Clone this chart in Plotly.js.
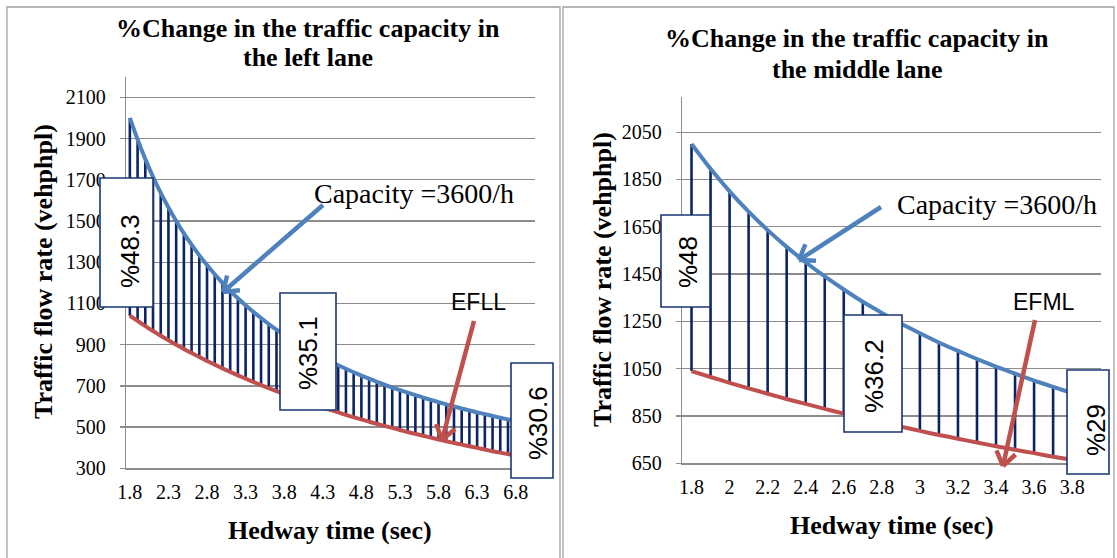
<!DOCTYPE html>
<html>
<head>
<meta charset="utf-8">
<script src="https://cdn.plot.ly/plotly-3.0.1.min.js"></script>
<style>
html,body{margin:0;padding:0;background:#fff;}
#chart{width:1117px;height:558px;}
</style>
</head>
<body>
<div id="chart"></div>
<script>
// ---------- DATA ----------
const headwayLeft = [1.8,1.9,2.0,2.1,2.2,2.3,2.4,2.5,2.6,2.7,2.8,2.9,3.0,3.1,3.2,3.3,3.4,3.5,3.6,3.7,3.8,3.9,4.0,4.1,4.2,4.3,4.4,4.5,4.6,4.7,4.8,4.9,5.0,5.1,5.2,5.3,5.4,5.5,5.6,5.7,5.8,5.9,6.0,6.1,6.2,6.3,6.4,6.5,6.6,6.7,6.8,6.9,7.0];
const capacityLeft = [2000,1895,1800,1714,1636,1565,1500,1440,1385,1333,1286,1241,1200,1161,1125,1091,1059,1029,1000,973,947,923,900,878,857,837,818,800,783,766,750,735,720,706,692,679,667,655,643,632,621,610,600,590,581,571,563,554,545,537,529,522,514];
const efll = [1040,1015,990,966,943,921,900,879,859,840,821,803,785,768,751,735,719,704,689,674,660,646,633,620,607,595,583,571,559,548,537,526,516,506,496,486,476,467,458,449,440,431,423,415,407,399,391,383,376,369,361,354,347];

const headwayMid = [1.8,1.9,2.0,2.1,2.2,2.3,2.4,2.5,2.6,2.7,2.8,2.9,3.0,3.1,3.2,3.3,3.4,3.5,3.6,3.7,3.8,3.9];
const capacityMid = [2000,1895,1800,1714,1636,1565,1500,1440,1385,1333,1286,1241,1200,1161,1125,1091,1059,1029,1000,973,947,923];
const efml = [1040,1015,990,967,944,922,901,880,860,841,823,805,787,770,754,738,722,707,693,678,665,651];

const leftTickVals = [1.8,2.3,2.8,3.3,3.8,4.3,4.8,5.3,5.8,6.3,6.8];
const leftTickText = ["1.8","2.3","2.8","3.3","3.8","4.3","4.8","5.3","5.8","6.3","6.8"];
const midTickVals = [1.8,2.0,2.2,2.4,2.6,2.8,3.0,3.2,3.4,3.6,3.8];
const midTickText = ["1.8","2","2.2","2.4","2.6","2.8","3","3.2","3.4","3.6","3.8"];

const titleLeft = ["%Change in the traffic capacity in","the left lane"];
const titleMid = ["%Change in the traffic capacity in","the middle lane"];
const xTitle = "Hedway time (sec)";
const yTitle = "Traffic flow rate (vehphpl)";
const capacityLabel = "Capacity =3600/h";
const pctLeft = ["%48.3","%35.1","%30.6"];
const pctMid = ["%48","%36.2","%29"];

// ---------- STYLE ----------
const W = 1117, H = 558;
const px = x => x / W;
const py = y => 1 - y / H;
const BLUE = '#4f81bd', RED = '#c0504d', NAVY = '#0b2466', GRID = '#8c8c8c';
const SERIF = '"Liberation Serif", "Times New Roman", serif';
const SANS = '"Liberation Sans", Arial, sans-serif';

function dropLines(xs, lo, hi, xa, ya) {
  const x = [], y = [];
  xs.forEach((h, i) => { x.push(h, h, null); y.push(lo[i], hi[i], null); });
  return {x, y, xaxis: xa, yaxis: ya, mode: 'lines', line: {color: NAVY, width: 2.6}, hoverinfo: 'skip', showlegend: false};
}
function curve(xs, ys, color, xa, ya) {
  return {x: xs, y: ys, xaxis: xa, yaxis: ya, mode: 'lines', line: {color, width: 4, shape: 'spline', smoothing: 0.6}, hoverinfo: 'skip', showlegend: false};
}

const traces = [
  dropLines(headwayLeft, efll, capacityLeft, 'x', 'y'),
  curve(headwayLeft, efll, RED, 'x', 'y'),
  curve(headwayLeft, capacityLeft, BLUE, 'x', 'y'),
  dropLines(headwayMid, efml, capacityMid, 'x2', 'y2'),
  curve(headwayMid, efml, RED, 'x2', 'y2'),
  curve(headwayMid, capacityMid, BLUE, 'x2', 'y2')
];

const tickFont = {family: SERIF, size: 20, color: '#000'};
function xAxis(dom, range, vals, text, anchor) {
  return {domain: dom, range, anchor, tickmode: 'array', tickvals: vals, ticktext: text,
    showgrid: false, zeroline: false, showline: true, linecolor: GRID, linewidth: 1.3,
    ticks: '', tickfont: tickFont, ticklabelstandoff: 5, fixedrange: true};
}
function yAxis(dom, range, tick0, anchor) {
  return {domain: dom, range, anchor, tickmode: 'linear', tick0, dtick: 200,
    showgrid: true, gridcolor: GRID, gridwidth: 1.3, zeroline: false,
    showline: true, linecolor: GRID, linewidth: 1.3,
    ticks: 'outside', ticklen: 5, tickcolor: GRID, tickwidth: 1.3,
    tickfont: tickFont, ticklabelstandoff: 10, fixedrange: true};
}

const shapes = [];
const annotations = [];
function rectPx(x0, y0, x1, y1, line, fill, layer) {
  shapes.push({type: 'rect', xref: 'paper', yref: 'paper', x0: px(x0), x1: px(x1), y0: py(y1), y1: py(y0),
    line, fillcolor: fill, layer});
}
function linePx(x0, y0, x1, y1, color, width) {
  shapes.push({type: 'line', xref: 'paper', yref: 'paper', x0: px(x0), y0: py(y0), x1: px(x1), y1: py(y1),
    line: {color, width}, layer: 'above'});
}
function arrowPx(tx, ty, hx, hy, color) {
  linePx(tx, ty, hx, hy, color, 4.5);
  const dx = tx - hx, dy = ty - hy, len = Math.hypot(dx, dy);
  const ux = dx / len, uy = dy / len, L = 17, a = 35 * Math.PI / 180;
  [a, -a].forEach(t => {
    const bx = ux * Math.cos(t) - uy * Math.sin(t), by = ux * Math.sin(t) + uy * Math.cos(t);
    linePx(hx, hy, hx + bx * L, hy + by * L, color, 4.5);
  });
}
function textPx(text, x, y, font, angle) {
  annotations.push({text, xref: 'paper', yref: 'paper', x: px(x), y: py(y), xanchor: 'center', yanchor: 'middle',
    showarrow: false, font, textangle: angle || 0});
}

// panel borders
rectPx(7, 7, 560, 600, {color: '#a0a0a0', width: 1.3}, 'rgba(0,0,0,0)', 'below');
rectPx(563, 7, 1114, 600, {color: '#a0a0a0', width: 1.3}, 'rgba(0,0,0,0)', 'below');

// arrows
arrowPx(323, 205, 223, 292, BLUE);
arrowPx(881, 207, 799, 260, BLUE);
arrowPx(474, 321, 442, 440, RED);
arrowPx(1035, 320, 1003, 466, RED);

// label boxes
const boxLine = {color: '#1a3673', width: 1.6};
rectPx(100, 178, 153, 307, boxLine, '#ffffff', 'above');
rectPx(280, 293, 336, 410, boxLine, '#ffffff', 'above');
rectPx(511, 363, 553, 478, boxLine, '#ffffff', 'above');
rectPx(661, 215, 710, 307, boxLine, '#ffffff', 'above');
rectPx(844, 315, 902, 432, boxLine, '#ffffff', 'above');
rectPx(1067, 370, 1109, 474, boxLine, '#ffffff', 'above');

const pctFont = {family: SANS, size: 26, color: '#000'};
textPx(pctLeft[0], 130, 251, pctFont, -90);
textPx(pctLeft[1], 308, 353, pctFont, -90);
textPx(pctLeft[2], 538, 423, pctFont, -90);
textPx(pctMid[0], 688, 262, pctFont, -90);
textPx(pctMid[1], 874, 376, pctFont, -90);
textPx(pctMid[2], 1096, 430, pctFont, -90);

// titles
const titleFont = {family: SERIF, size: 26, color: '#000', weight: 'bold'};
textPx('<b>' + titleLeft[0] + '</b>', 307.5, 28, titleFont);
textPx('<b>' + titleLeft[1] + '</b>', 307.5, 57, titleFont);
textPx('<b>' + titleMid[0] + '</b>', 857, 39, titleFont);
textPx('<b>' + titleMid[1] + '</b>', 857, 69, titleFont);

// axis titles
textPx('<b>' + xTitle + '</b>', 330, 530, titleFont);
textPx('<b>' + xTitle + '</b>', 892, 525, titleFont);
textPx('<b>' + yTitle + '</b>', 44, 272, titleFont, -90);
textPx('<b>' + yTitle + '</b>', 602, 279, titleFont, -90);

// series labels
const capFont = {family: SERIF, size: 28, color: '#000'};
textPx(capacityLabel, 413.5, 193, capFont);
textPx(capacityLabel, 997, 205, capFont);
const efFont = {family: SANS, size: 23, color: '#000'};
textPx('EFLL', 478, 302, efFont);
textPx('EFML', 1044, 302, efFont);

const layout = {
  width: W, height: H, margin: {l: 0, r: 0, t: 0, b: 0},
  paper_bgcolor: '#fff', plot_bgcolor: 'rgba(0,0,0,0)', showlegend: false,
  xaxis: xAxis([px(126), px(535)], [1.75, 7.05], leftTickVals, leftTickText, 'y'),
  yaxis: yAxis([py(468.3), py(76.7)], [300, 2200], 300, 'x'),
  xaxis2: xAxis([px(682), px(1100.7)], [1.75, 3.95], midTickVals, midTickText, 'y2'),
  yaxis2: yAxis([py(463.3), py(96.7)], [650, 2200], 650, 'x2'),
  shapes, annotations
};

Plotly.newPlot('chart', traces, layout, {displayModeBar: false, staticPlot: true});
</script>
</body>
</html>
